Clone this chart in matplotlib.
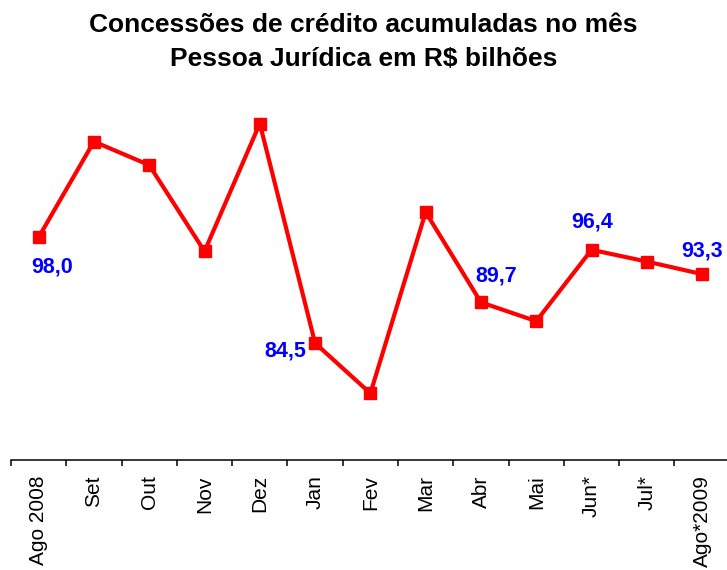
import matplotlib
matplotlib.use("Agg")
import matplotlib.pyplot as plt
import numpy as np

plt.rcParams["font.family"] = ["Liberation Sans", "DejaVu Sans"]

# Monthly values (R$ bilhoes)
months = ["Ago 2008", "Set", "Out", "Nov", "Dez", "Jan", "Fev", "Mar",
          "Abr", "Mai", "Jun*", "Jul*", "Ago*2009"]
values = [98.0, 110.2, 107.2, 96.2, 112.5, 84.5, 78.1, 101.2,
          89.7, 87.3, 96.4, 94.9, 93.3]

# Points that carry a value label, with their pixel offsets
labeled = {0: (13, -30), 5: (-30, -8), 8: (15, 26), 10: (1, 28), 12: (0, 23)}

fig = plt.figure(figsize=(7.27, 5.70), dpi=100)
ax = fig.add_axes([11 / 727, 110 / 570, 1 - 11 / 727, 360 / 570])

x = np.arange(len(months))
ax.plot(x, values, color="#ff0000", linewidth=3, marker="s", markersize=8.5,
        solid_joinstyle="miter")

for i, (dx, dy) in labeled.items():
    txt = f"{values[i]:.1f}".replace(".", ",")
    ax.annotate(txt, (x[i], values[i]), xytext=(dx * 0.72, dy * 0.72),
                textcoords="offset points", ha="center", va="center",
                color="#0000ff", fontsize=15.5, fontweight="bold")

ax.set_xlim(-0.5, 12.45)
ax.set_ylim(69.6, 115.5)

for side in ["left", "right", "top"]:
    ax.spines[side].set_visible(False)
ax.spines["bottom"].set_linewidth(1.1)
ax.set_yticks([])

ax.set_xticks(x)
ax.set_xticklabels(months, rotation=90, fontsize=15, va="top", ha="center")
ax.set_xticks(np.arange(-0.5, 12.5, 1), minor=True)
ax.tick_params(axis="x", which="major", length=0, pad=11)
ax.tick_params(axis="x", which="minor", length=4.5, width=1.1, direction="out")

fig.text(0.5, 1 - 25 / 570, "Concessões de crédito acumuladas no mês",
         ha="center", va="center", fontsize=19, fontweight="bold")
fig.text(0.5, 1 - 59 / 570, "Pessoa Jurídica em R$ bilhões",
         ha="center", va="center", fontsize=19, fontweight="bold")

fig.savefig("out.png", dpi=100)
plt.close(fig)
